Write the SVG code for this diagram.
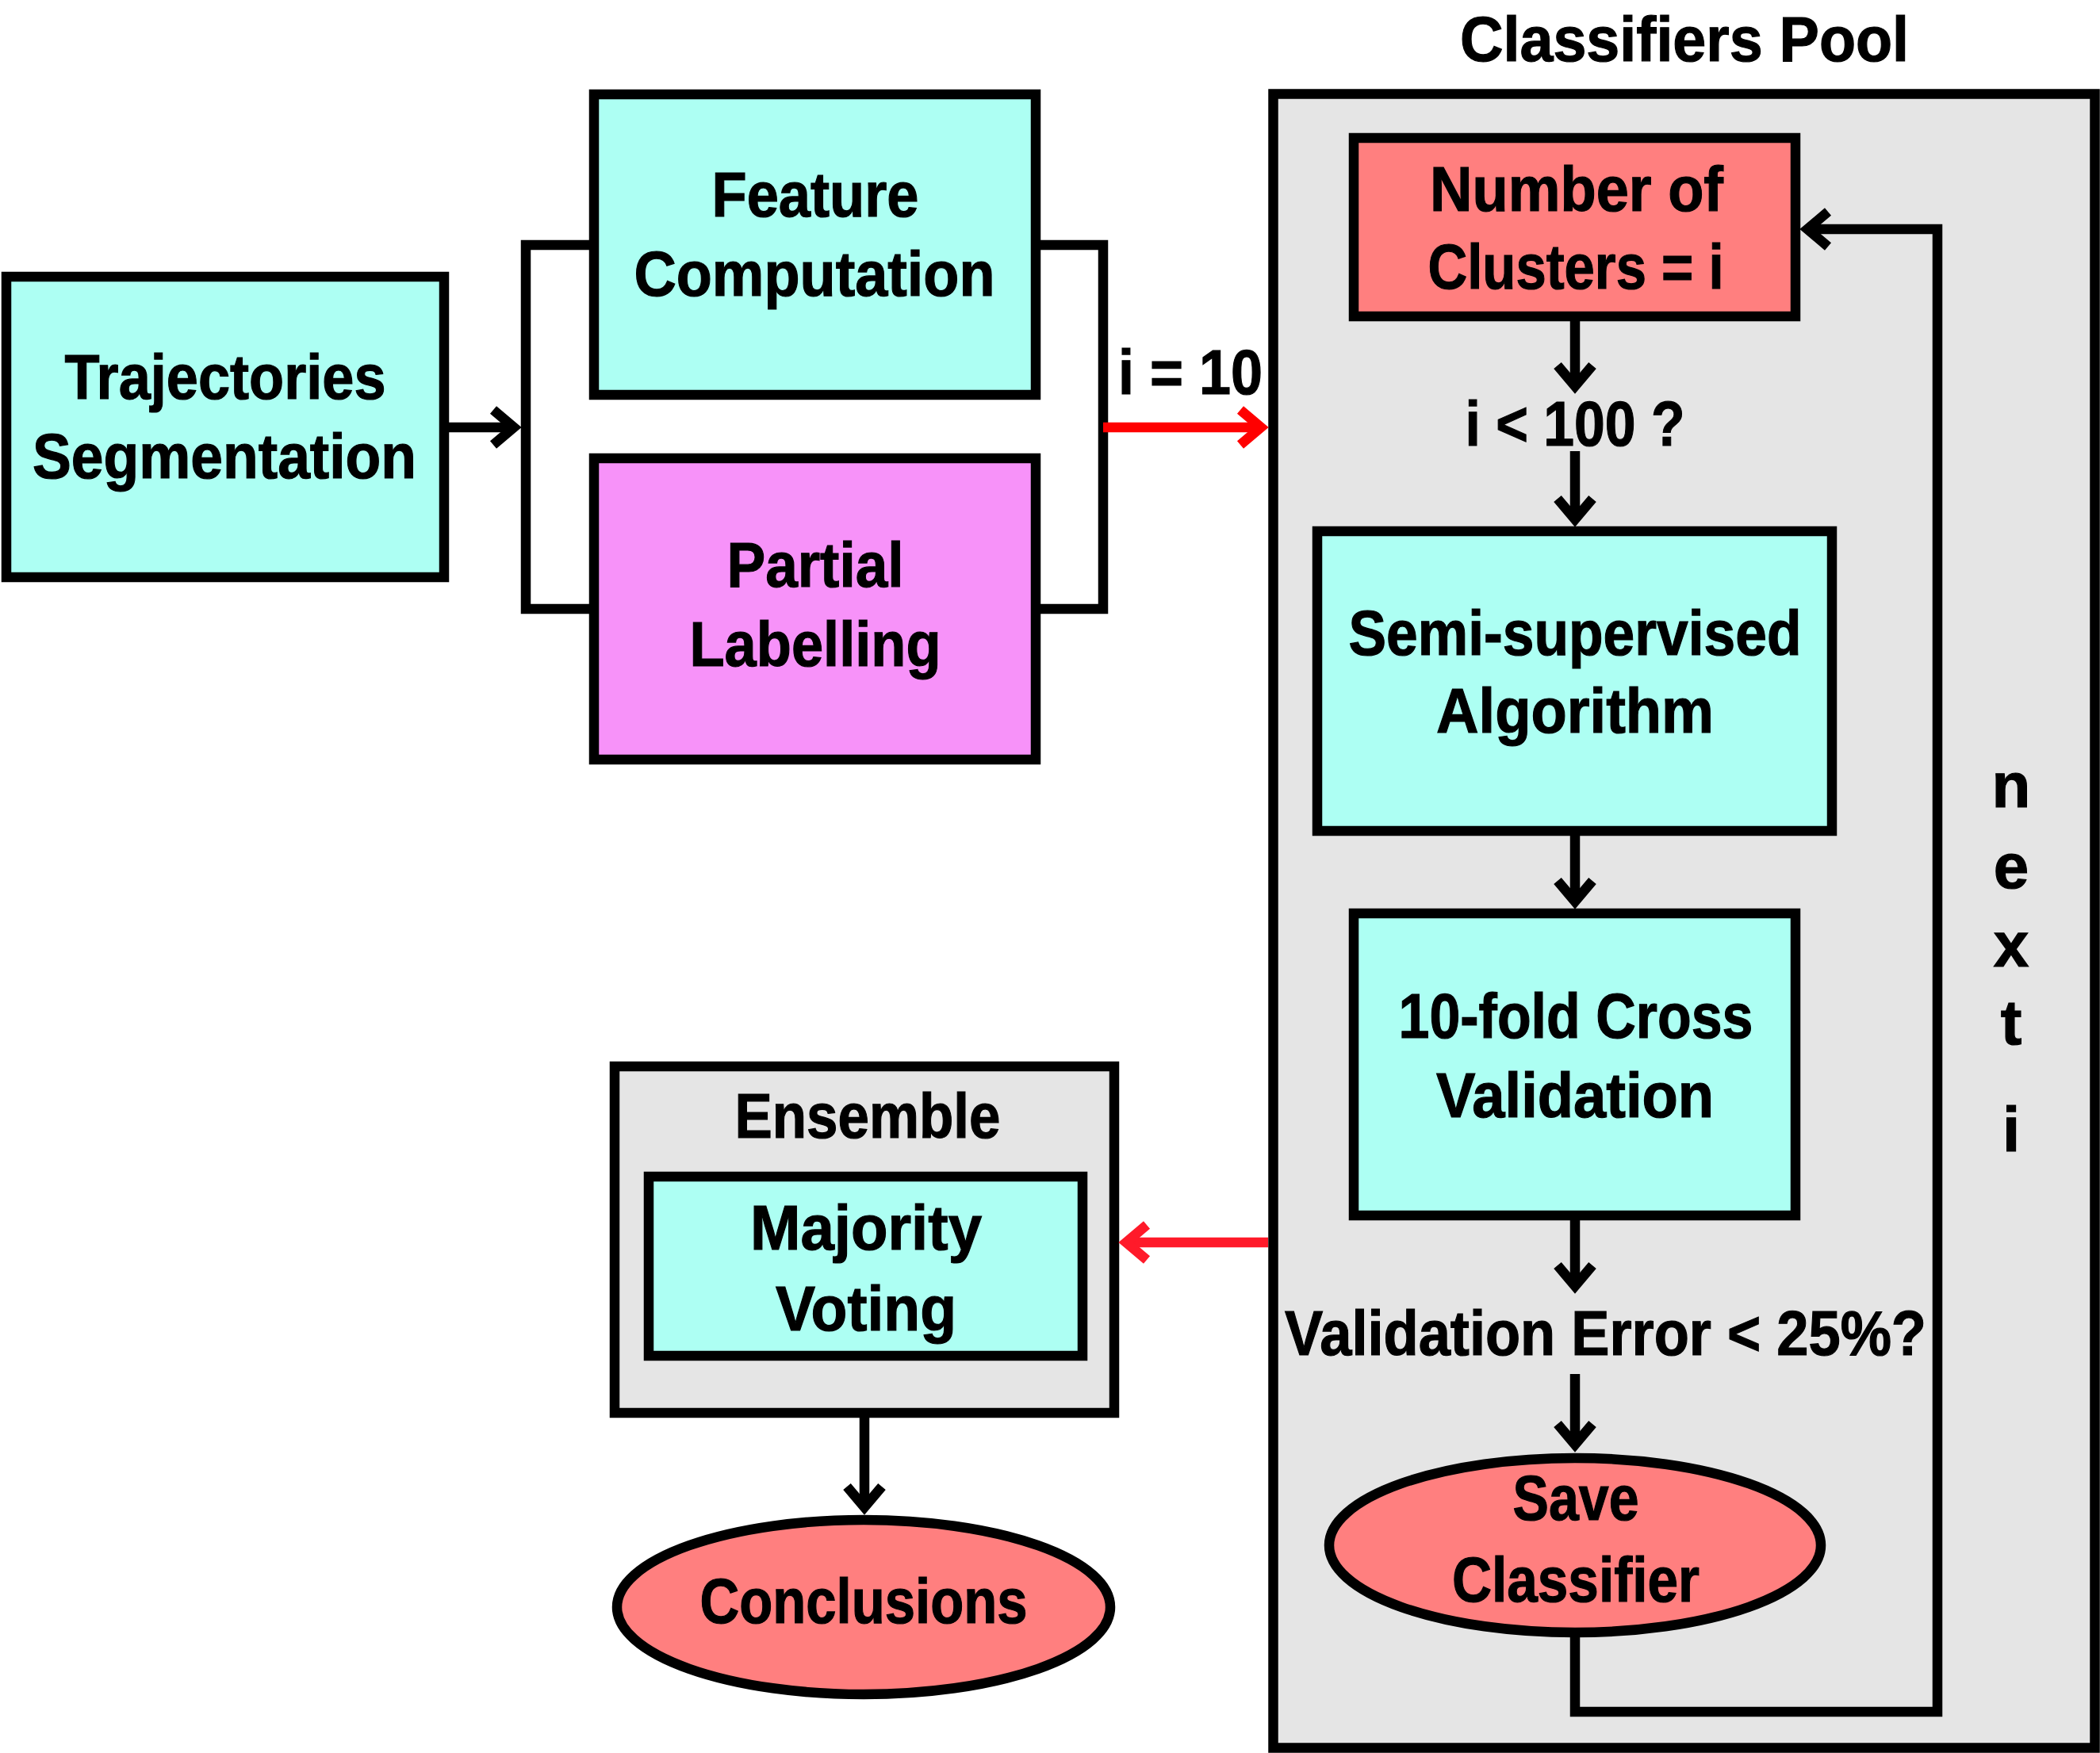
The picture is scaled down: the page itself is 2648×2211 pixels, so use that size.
<svg xmlns="http://www.w3.org/2000/svg" width="2648" height="2211" viewBox="0 0 2648 2211">
<style>
.box{stroke:#000;stroke-width:12.5}
.cyan{fill:#adfff3}
.pink{fill:#f792f9}
.salmon{fill:#ff7f7f}
.gray{fill:#e5e5e5}
.t{font-family:"Liberation Sans",Arial,sans-serif;font-weight:bold;font-size:80px;fill:#000;stroke:#000;stroke-width:1.2;text-anchor:middle}
.ts{text-anchor:start}
.ln{fill:none;stroke:#000;stroke-width:12.5;stroke-linejoin:miter}
.red{fill:none;stroke:#ff0000;stroke-width:12.5}
.red2{fill:none;stroke:#ff1a2a;stroke-width:12.5}
</style>
<defs>
<marker id="ah" markerUnits="userSpaceOnUse" markerWidth="80" markerHeight="80" viewBox="-40 -40 80 80" refX="0" refY="0" orient="auto" overflow="visible">
<path d="M-26,-22 L0,0 L-26,22" fill="none" stroke="#000" stroke-width="12.5"/>
</marker>
<marker id="ahr" markerUnits="userSpaceOnUse" markerWidth="80" markerHeight="80" viewBox="-40 -40 80 80" refX="0" refY="0" orient="auto" overflow="visible">
<path d="M-26,-22 L0,0 L-26,22" fill="none" stroke="#ff0000" stroke-width="12.5"/>
</marker>
<marker id="ahr2" markerUnits="userSpaceOnUse" markerWidth="80" markerHeight="80" viewBox="-40 -40 80 80" refX="0" refY="0" orient="auto" overflow="visible">
<path d="M-26,-22 L0,0 L-26,22" fill="none" stroke="#ff1a2a" stroke-width="12.5"/>
</marker>
</defs>

<g id="pool">
<rect class="box gray" x="1605.5" y="118.5" width="1036" height="2086"/>
<text class="t" x="2124" y="77" font-size="84" textLength="566" lengthAdjust="spacingAndGlyphs">Classifiers Pool</text>
</g>

<g id="ensemble">
<rect class="box gray" x="775" y="1345" width="630" height="437"/>
<text class="t" x="1094" y="1435" textLength="335" lengthAdjust="spacingAndGlyphs">Ensemble</text>
</g>

<g id="connectors">
<path class="ln" d="M562,539 H648" marker-end="url(#ah)"/>
<path class="ln" d="M743,309 H663 V768 H743"/>
<path class="ln" d="M1312,309 H1391 V768 H1312"/>
<path class="red" d="M1391,539 H1590" marker-end="url(#ahr)"/>
<path class="ln" d="M1986,405 V487" marker-end="url(#ah)"/>
<path class="ln" d="M1986,569 V655" marker-end="url(#ah)"/>
<path class="ln" d="M1986,1054 V1137" marker-end="url(#ah)"/>
<path class="ln" d="M1986,1539 V1622" marker-end="url(#ah)"/>
<path class="ln" d="M1986,1733 V1822" marker-end="url(#ah)"/>
<path class="ln" d="M1986,2065 V2159 H2443 V289 H2279" marker-end="url(#ah)"/>
<path class="red2" d="M1599,1567 H1420" marker-end="url(#ahr2)"/>
<path class="ln" d="M1090,1788 V1901" marker-end="url(#ah)"/>
</g>

<g id="trajectories">
<rect class="box cyan" x="8" y="349" width="552" height="379"/>
<text class="t" x="284" y="503" textLength="405" lengthAdjust="spacingAndGlyphs">Trajectories</text>
<text class="t" x="283" y="603" textLength="484" lengthAdjust="spacingAndGlyphs">Segmentation</text>
</g>

<g id="feature">
<rect class="box cyan" x="749" y="119" width="557" height="379"/>
<text class="t" x="1028" y="273" textLength="261" lengthAdjust="spacingAndGlyphs">Feature</text>
<text class="t" x="1027" y="373" textLength="455" lengthAdjust="spacingAndGlyphs">Computation</text>
</g>

<g id="partial">
<rect class="box pink" x="749" y="578" width="557" height="380"/>
<text class="t" x="1028" y="740" textLength="223" lengthAdjust="spacingAndGlyphs">Partial</text>
<text class="t" x="1028" y="840" textLength="317" lengthAdjust="spacingAndGlyphs">Labelling</text>
</g>

<g id="label-i10">
<text class="t ts" x="1410" y="497" textLength="182" lengthAdjust="spacingAndGlyphs">i = 10</text>
</g>

<g id="number">
<rect class="box salmon" x="1707" y="174" width="557" height="225"/>
<text class="t" x="1988" y="266" textLength="370" lengthAdjust="spacingAndGlyphs">Number of</text>
<text class="t" x="1987" y="364" textLength="373" lengthAdjust="spacingAndGlyphs">Clusters = i</text>
</g>

<g id="cond1">
<text class="t" x="1986" y="562" textLength="277" lengthAdjust="spacingAndGlyphs">i &lt; 100 ?</text>
</g>

<g id="semi">
<rect class="box cyan" x="1661" y="670" width="649" height="378"/>
<text class="t" x="1986" y="826" textLength="571" lengthAdjust="spacingAndGlyphs">Semi-supervised</text>
<text class="t" x="1986" y="924" textLength="350" lengthAdjust="spacingAndGlyphs">Algorithm</text>
</g>

<g id="crossval">
<rect class="box cyan" x="1707" y="1152" width="557" height="381"/>
<text class="t" x="1987" y="1309" textLength="447" lengthAdjust="spacingAndGlyphs">10-fold Cross</text>
<text class="t" x="1986" y="1409" textLength="350" lengthAdjust="spacingAndGlyphs">Validation</text>
</g>

<g id="cond2">
<text class="t ts" x="1620" y="1709" textLength="809" lengthAdjust="spacingAndGlyphs">Validation Error &lt; 25%?</text>
</g>

<g id="save">
<ellipse class="box salmon" cx="1986" cy="1949" rx="310" ry="110"/>
<text class="t" x="1987" y="1917" textLength="159" lengthAdjust="spacingAndGlyphs">Save</text>
<text class="t" x="1987" y="2020" textLength="312" lengthAdjust="spacingAndGlyphs">Classifier</text>
</g>

<g id="next-i">
<text class="t" x="2536" y="1018">n</text>
<text class="t" x="2536" y="1120">e</text>
<text class="t" x="2536" y="1219">x</text>
<text class="t" x="2536" y="1317">t</text>
<text class="t" x="2536" y="1452">i</text>
</g>

<g id="majority">
<rect class="box cyan" x="818" y="1484" width="547" height="226"/>
<text class="t" x="1092" y="1576" textLength="292" lengthAdjust="spacingAndGlyphs">Majority</text>
<text class="t" x="1092" y="1678" textLength="228" lengthAdjust="spacingAndGlyphs">Voting</text>
</g>

<g id="conclusions">
<ellipse class="box salmon" cx="1089" cy="2027" rx="311" ry="110"/>
<text class="t" x="1089" y="2047" textLength="413" lengthAdjust="spacingAndGlyphs">Conclusions</text>
</g>
</svg>
